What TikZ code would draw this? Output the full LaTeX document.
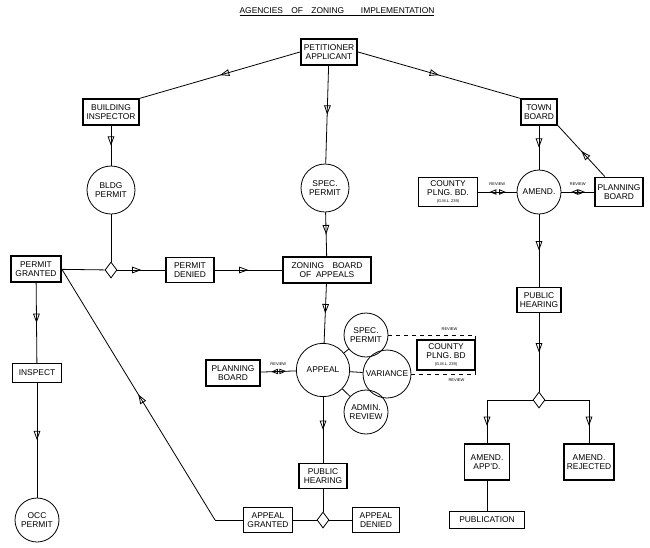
\documentclass[tikz,border=0pt]{standalone}
\usepackage{fontspec}
\setmainfont{Liberation Sans}
\usetikzlibrary{arrows.meta,decorations.markings,shapes.geometric}
\begin{document}
\begin{tikzpicture}[x=0.75pt,y=-0.75pt,
  every node/.style={font=\fontsize{6.3}{6.8}\selectfont, align=center},
  box/.style={draw, line width=1.1pt, inner sep=2pt, minimum height=19pt},
  dbox/.style={draw, line width=1.6pt, inner sep=2pt, minimum height=19pt},
  circ/.style={draw, circle, line width=0.6pt, inner sep=0pt},
  dia/.style={draw, diamond, line width=0.6pt, minimum width=9pt, minimum height=12pt, inner sep=0pt},
  ln/.style={line width=0.6pt},
  oa/.style={ln, postaction=decorate, decoration={markings, mark=at position #1 with {\arrow{Triangle[open,length=7pt,width=5pt]}}}},
  oa/.default=0.5,
  rv/.style={ln, postaction=decorate, decoration={markings,
     mark=at position 0.3 with {\arrowreversed{Triangle[open,length=5pt,width=4pt]}},
     mark=at position 0.72 with {\arrow{Triangle[open,length=5pt,width=4pt]}}}},
  tiny/.style={font=\fontsize{3}{3}\selectfont}
]
\useasboundingbox (0,0) rectangle (650,547);
\node (title) at (337,12) {\underline{AGENCIES\quad OF\quad ZONING\qquad IMPLEMENTATION}};
% boxes
\node[dbox, minimum width=42pt] (pet) at (329,52) {PETITIONER\\APPLICANT};
\node[dbox, minimum width=42pt] (bi) at (111,112) {BUILDING\\INSPECTOR};
\node[dbox, minimum width=27pt] (tb) at (539,112) {TOWN\\BOARD};
\node[circ, minimum size=36pt] (bp) at (111,190) {BLDG\\PERMIT};
\node[circ, minimum size=36pt] (sp) at (325,188) {SPEC.\\PERMIT};
\node[box, minimum width=44pt, minimum height=22pt] (cp1) at (448,192) {COUNTY\\PLNG.\ BD.\\[-1pt]{\fontsize{3}{3}\selectfont (G.M.L. 239)}};
\node[circ, minimum size=33pt] (am) at (539,192) {AMEND.};
\node[box, minimum width=34pt, minimum height=22pt] (pb1) at (619,192) {PLANNING\\BOARD};
\node[dbox, minimum width=37pt] (pg) at (36,269) {PERMIT\\GRANTED};
\node[dia] (d1) at (111,270) {};
\node[box, minimum width=36pt] (pd) at (190,270) {PERMIT\\DENIED};
\node[dbox, minimum width=66pt] (zba) at (327,270) {ZONING\quad BOARD\\OF\ \ APPEALS};
\node[box, minimum width=33pt] (ph1) at (539,300) {PUBLIC\\HEARING};
\node[circ, minimum size=40pt] (ap) at (323,370) {APPEAL};
\node[circ, minimum size=33pt] (sp2) at (366,335) {SPEC.\\PERMIT};
\node[circ, minimum size=36pt] (va) at (387,374) {VARIANCE};
\node[circ, minimum size=33pt] (ar) at (366,412) {ADMIN.\\REVIEW};
\node[dbox, minimum width=43pt, minimum height=22pt] (cp2) at (446,355) {COUNTY\\PLNG.\ BD\\[-1pt]{\fontsize{3}{3}\selectfont (G.M.L. 239)}};
\node[dbox, minimum width=40pt] (pb2) at (233,373) {PLANNING\\BOARD};
\node[box, line width=0.7pt, minimum width=37pt, minimum height=14pt] (ins) at (37,373) {INSPECT};
\node[dia] (d2) at (539,400) {};
\node[box, minimum width=34pt, minimum height=27pt] (aa) at (487,462) {AMEND.\\APP'D.};
\node[box, minimum width=37pt, minimum height=27pt] (arj) at (589,462) {AMEND.\\REJECTED};
\node[box, minimum width=36pt] (ph2) at (323,476) {PUBLIC\\HEARING};
\node[box, line width=0.7pt, minimum width=37pt] (ag) at (268,520) {APPEAL\\GRANTED};
\node[dia] (d3) at (323,520) {};
\node[box, line width=0.7pt, minimum width=35pt] (ad) at (376,520) {APPEAL\\DENIED};
\node[circ, minimum size=33pt] (oc) at (37,520) {OCC\\PERMIT};
\node[box, line width=0.7pt, minimum width=56pt, minimum height=13pt] (pub) at (487,520) {PUBLICATION};
% connectors
\draw[oa] (pet.west) -- (bi.north east);
\draw[oa] (pet) -- (sp);
\draw[oa] (pet.east) -- (tb.north west);
\draw[oa] (bi) -- (bp);
\draw[ln] (bp) -- (d1);
\draw[ln] (d1) -- (pg);
\draw[oa] (d1) -- (pd);
\draw[oa] (pd) -- (zba);
\draw[oa] (sp) -- (zba);
\draw[oa] (zba) -- (ap);
\draw[oa] (ap) -- (ph2);
\draw[ln] (ph2) -- (d3);
\draw[ln] (d3) -- (ag);
\draw[ln] (d3) -- (ad);
\coordinate (c1) at (215,520);
\draw[ln] (ag) -- (c1);
\draw[oa] (c1) -- (pg.east);
\draw[oa] (pg) -- (ins);
\draw[oa] (ins) -- (oc);
\draw[oa] (tb) -- (am);
\draw[oa] (pb1) -- (tb.south east);
\draw[rv] (cp1) -- (am) node[tiny, midway, above=1pt] {REVIEW};
\draw[rv] (am) -- (pb1) node[tiny, midway, above=1pt] {REVIEW};
\draw[oa] (am) -- (ph1);
\draw[oa] (ph1) -- (d2);
\coordinate (c2) at (487,400);
\coordinate (c3) at (589,400);
\draw[ln] (d2) -- (c2);
\draw[ln] (d2) -- (c3);
\draw[oa=0.6] (c2) -- (aa);
\draw[oa=0.6] (c3) -- (arj);
\draw[ln] (aa) -- (pub);
\draw[ln] (ap) -- (sp2);
\draw[ln] (ap) -- (va);
\draw[ln] (ap) -- (ar);
\draw[rv] (pb2) -- (ap) node[tiny, midway, above=1pt] {REVIEW};
\draw[ln, dashed] (sp2.east) -| (cp2.north east) node[tiny, pos=0.35, above] {REVIEW};
\draw[ln, dashed] (va.east) -| (cp2.south east) node[tiny, pos=0.35, below] {REVIEW};
\end{tikzpicture}
\end{document}
